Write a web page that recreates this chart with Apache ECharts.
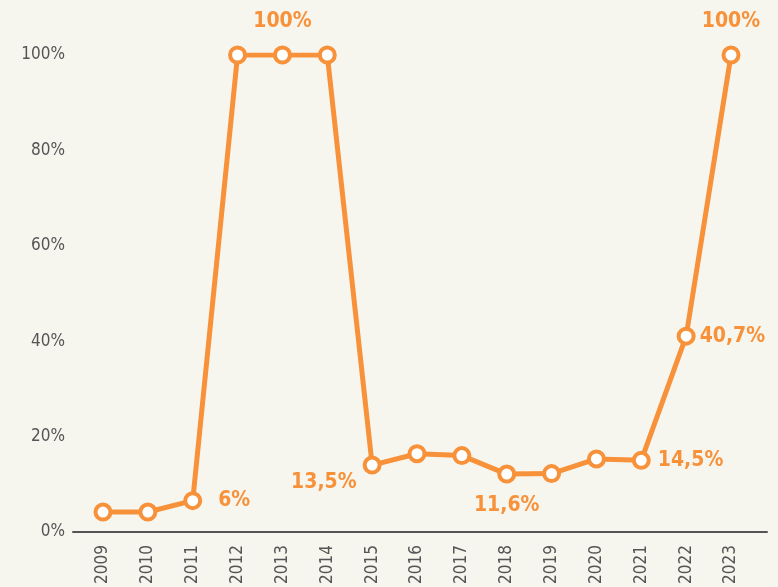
<!DOCTYPE html>
<html><head><meta charset="utf-8">
<script src="https://cdn.jsdelivr.net/npm/echarts@6/dist/echarts.min.js"></script>
<style>html,body{margin:0;padding:0;background:#f6f6ef;}#c{width:778px;height:587px;}</style>
</head><body><div id="c"></div>
<script>
const years = ['2009','2010','2011','2012','2013','2014','2015','2016','2017','2018','2019','2020','2021','2022','2023'];
const shares = [3.6, 3.6, 6, 100, 100, 100, 13.5, 15.9, 15.5, 11.6, 11.7, 14.8, 14.5, 40.7, 100];
const labelledYears = ['2011','2013','2015','2018','2021','2022','2023'];
const yTicks = [0, 20, 40, 60, 80, 100];

const FONT = '"Liberation Sans Narrow","DejaVu Sans Condensed","Roboto Condensed",sans-serif';
const ORANGE = '#f7913a';
const labelStyle = {
  '2011': {position: 'right', distance: 16},
  '2013': {position: 'top', distance: 13},
  '2015': {position: 'left', distance: 6, offset: [0, 17]},
  '2018': {position: 'bottom', distance: 11},
  '2021': {position: 'right', distance: 7},
  '2022': {position: 'right', distance: 4},
  '2023': {position: 'top', distance: 13}
};
const fmt = v => String(v).replace('.', ',') + '%';
const seriesData = shares.map((v, i) => {
  const y = years[i];
  const d = {value: v};
  if (labelledYears.includes(y)) {
    d.label = Object.assign({show: true, formatter: p => fmt(p.value)}, labelStyle[y]);
  }
  return d;
});

const chart = echarts.init(document.getElementById('c'));
chart.setOption({
  backgroundColor: '#f6f6ef',
  animation: false,
  grid: [
    {left: 73, right: 11, top: 55, bottom: 55},
    {left: 103, right: 47, top: 55, bottom: 55}
  ],
  xAxis: [
    {gridIndex: 0, type: 'category', data: years, boundaryGap: false,
     axisLine: {show: true, lineStyle: {color: '#555', width: 2}},
     axisTick: {show: false}, axisLabel: {show: false}, splitLine: {show: false}},
    {gridIndex: 1, type: 'category', data: years, boundaryGap: false,
     axisLine: {show: false}, axisTick: {show: false},
     axisLabel: {rotate: 90, margin: 16, color: '#555', fontSize: 17, fontFamily: FONT}}
  ],
  yAxis: [
    {gridIndex: 0, type: 'value', min: 0, max: 100, interval: 20,
     axisLine: {show: false}, axisTick: {show: false}, splitLine: {show: false},
     axisLabel: {margin: 8, color: '#555', fontSize: 17, fontFamily: FONT,
       formatter: v => yTicks.includes(v) ? v + '%' : ''}},
    {gridIndex: 1, type: 'value', min: 0, max: 100, interval: 20, show: false}
  ],
  series: [{
    type: 'line', xAxisIndex: 1, yAxisIndex: 1,
    data: seriesData,
    symbol: 'circle', symbolSize: 15,
    lineStyle: {color: ORANGE, width: 5},
    itemStyle: {color: '#ffffff', borderColor: ORANGE, borderWidth: 4},
    label: {show: false, color: ORANGE, fontSize: 21, fontWeight: 'bold', fontFamily: FONT},
    z: 3
  }]
});
</script></body></html>
